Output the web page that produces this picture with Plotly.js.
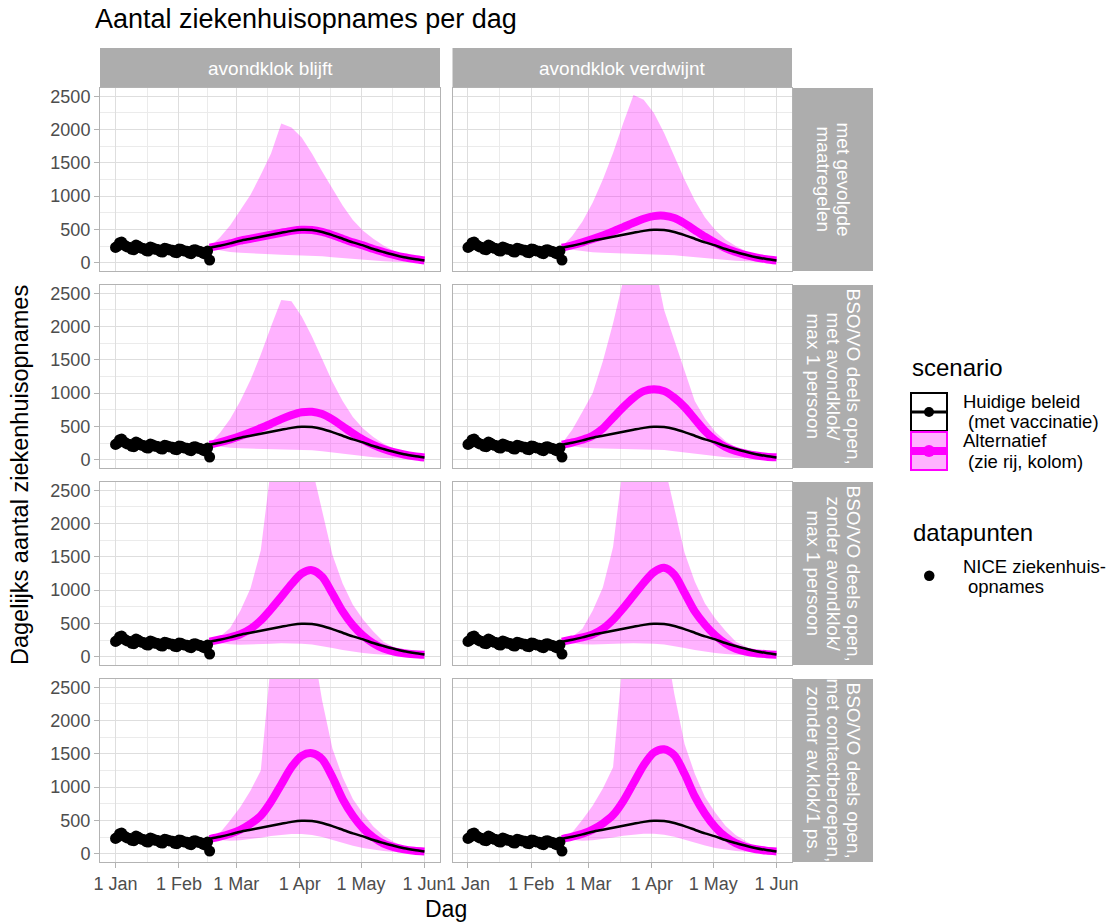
<!DOCTYPE html>
<html><head><meta charset="utf-8">
<script src="https://cdn.plot.ly/plotly-3.0.1.min.js"></script>
<style>html,body{margin:0;padding:0;background:#fff}#chart{width:1108px;height:923px}</style>
</head><body><div id="chart"></div>
<script>
// ---------------- DATA ----------------
const obsStart = '2021-01-01';
const obsValues = [230,250,300,310,270,250,235,230,200,195,265,250,225,215,210,180,175,235,225,205,200,195,165,160,215,210,195,190,185,155,150,205,200,180,175,170,145,135,190,195,175,170,160,140,130,175,40];

const forecastDates = ['2021-02-16','2021-02-21','2021-02-26','2021-03-03','2021-03-08','2021-03-13','2021-03-18','2021-03-23','2021-03-28','2021-04-02','2021-04-07','2021-04-12','2021-04-17','2021-04-22','2021-04-27','2021-05-02','2021-05-07','2021-05-12','2021-05-17','2021-05-22','2021-05-27','2021-06-01'];

const baseline   = [225,255,290,330,360,390,420,450,478,495,490,462,415,360,305,260,205,160,118,82,55,32];

const alt_r1c1   = [225,255,290,330,360,390,420,450,478,495,490,462,415,360,305,260,205,160,118,82,55,32];
const upper_r1c1 = [235,380,560,790,1020,1320,1640,2090,2030,1880,1640,1370,1110,860,640,480,360,260,180,120,75,45];
const lower_r1c1 = [212,185,162,148,138,130,125,120,116,112,105,95,82,68,55,42,31,22,15,10,6,3];

const alt_r1c2   = [225,262,305,355,410,470,535,600,660,700,705,670,590,490,390,300,220,160,112,78,52,33];
const upper_r1c2 = [240,400,620,900,1250,1650,2100,2520,2450,2250,1950,1600,1250,940,680,490,350,250,175,120,80,55];
const lower_r1c2 = [214,192,172,158,150,145,140,138,135,130,122,110,95,80,65,50,38,28,20,13,8,5];

const alt_r2c1   = [225,262,305,355,412,475,540,610,670,712,720,685,605,500,395,300,222,160,112,78,52,33];
const upper_r2c1 = [240,400,610,880,1200,1580,2000,2400,2380,2150,1850,1500,1170,880,640,470,340,240,170,115,75,50];
const lower_r2c1 = [215,195,180,170,165,162,160,158,155,150,140,125,105,85,65,48,35,25,17,11,7,4];

const alt_r2c2   = [225,258,300,360,470,630,790,930,1030,1060,1030,930,790,610,430,290,190,130,90,63,45,35];
const upper_r2c2 = [245,450,720,1000,1480,2050,2700,3200,3300,3000,2250,1800,1330,880,620,420,280,190,125,85,60,45];
const lower_r2c2 = [215,196,182,172,168,166,165,164,162,156,145,128,108,87,67,50,36,26,18,12,7,4];

const alt_r3c1   = [225,258,292,338,420,545,715,900,1090,1250,1300,1200,950,680,470,315,200,122,78,52,38,30];
const upper_r3c1 = [230,300,430,690,1030,1600,2850,3450,3650,3450,2850,2200,1530,1100,780,560,380,225,145,85,55,40];
const lower_r3c1 = [215,198,185,180,182,188,195,200,200,195,182,160,130,100,75,55,40,28,19,12,8,4];

const alt_r3c2   = [225,258,290,335,420,555,730,920,1110,1270,1335,1230,960,680,480,320,200,120,75,50,38,30];
const upper_r3c2 = [230,300,420,690,1040,1650,2900,3500,3700,3500,2900,2250,1560,1130,800,575,390,230,150,85,55,40];
const lower_r3c2 = [215,198,186,182,184,190,197,202,202,196,183,160,130,100,75,55,40,28,19,12,8,4];

const alt_r4c1   = [220,255,300,360,450,570,780,1040,1300,1470,1510,1420,1150,820,570,380,245,150,98,65,45,32];
const upper_r4c1 = [230,310,500,700,950,1250,2900,3600,3900,3800,3200,2300,1580,1150,820,600,410,270,180,100,60,45];
const lower_r4c1 = [215,200,195,200,215,240,265,285,295,295,280,250,205,160,120,85,60,40,27,17,10,5];

const alt_r4c2   = [220,255,300,362,455,580,790,1060,1330,1520,1570,1480,1200,860,600,400,255,158,100,66,46,33];
const upper_r4c2 = [230,320,510,720,980,1300,3000,3700,4000,3900,3300,2400,1650,1200,850,620,420,280,185,105,62,46];
const lower_r4c2 = [215,200,196,202,218,244,270,290,300,300,285,255,210,163,122,87,61,41,28,17,10,5];

const colLabels = ['avondklok blijft', 'avondklok verdwijnt'];
const rowLabels = [
  ['met gevolgde', 'maatregelen'],
  ['BSO/VO deels open,', 'met avondklok/', 'max 1 persoon'],
  ['BSO/VO deels open,', 'zonder avondklok/', 'max 1 persoon'],
  ['BSO/VO deels open,', 'met contactberoepen,', 'zonder av.klok/1 ps.']
];

const xTickVals = ['2021-01-01','2021-02-01','2021-03-01','2021-04-01','2021-05-01','2021-06-01'];
const xTickText = ['1 Jan','1 Feb','1 Mar','1 Apr','1 May','1 Jun'];
const xMinorVals = ['2021-01-16 12:00','2021-02-15','2021-03-16 12:00','2021-04-16','2021-05-16 12:00'];
const xRange = ['2020-12-24 10:00','2021-06-08 14:00'];
const yTickVals = [0,500,1000,1500,2000,2500];
const yMinorVals = [250,750,1250,1750,2250];
const yRange = [-125, 2625];

const titleText = 'Aantal ziekenhuisopnames per dag';
const xTitle = 'Dag';
const yTitle = 'Dagelijks aantal ziekenhuisopnames';

// ---------------- BUILD ----------------
const obsDates = obsValues.map((v,i)=>{
  const d = new Date(obsStart+'T00:00:00Z'); d.setUTCDate(d.getUTCDate()+i);
  return d.toISOString().slice(0,10);
});

const panels = [
  {alt:alt_r1c1, up:upper_r1c1, lo:lower_r1c1},
  {alt:alt_r1c2, up:upper_r1c2, lo:lower_r1c2},
  {alt:alt_r2c1, up:upper_r2c1, lo:lower_r2c1},
  {alt:alt_r2c2, up:upper_r2c2, lo:lower_r2c2},
  {alt:alt_r3c1, up:upper_r3c1, lo:lower_r3c1},
  {alt:alt_r3c2, up:upper_r3c2, lo:lower_r3c2},
  {alt:alt_r4c1, up:upper_r4c1, lo:lower_r4c1},
  {alt:alt_r4c2, up:upper_r4c2, lo:lower_r4c2}
];

const W=1108, H=923;
const colPx=[[100,440],[452.5,792]];
const rowPx=[[88,271],[285,468],[482,665],[679,862]];
const stripTop=[48,87];
const stripRight=[793,873];
const fx = p=>p/W, fy = p=>1-p/H;
const FONT='Liberation Sans, Arial, Helvetica, sans-serif';
const STRIP='#adadad', BORDER='#b3b3b3', GRID='#dedede', MINOR='#ebebeb';
const MAG='#ff00ff', BAND='rgba(255,0,255,0.3)';

const traces=[];
const layout={
  width:W, height:H, margin:{l:0,r:0,t:0,b:0,pad:0},
  paper_bgcolor:'#fff', plot_bgcolor:'#fff', showlegend:false,
  font:{family:FONT, color:'#000'},
  shapes:[], annotations:[]
};

panels.forEach((p,i)=>{
  const r=Math.floor(i/2), c=i%2;
  const sfx = i===0?'':String(i+1);
  const xa='x'+sfx, ya='y'+sfx;
  traces.push({type:'scatter',mode:'lines',x:forecastDates,y:p.lo,xaxis:xa,yaxis:ya,
    line:{width:0,color:'rgba(0,0,0,0)'},hoverinfo:'skip'});
  traces.push({type:'scatter',mode:'lines',x:forecastDates,y:p.up,xaxis:xa,yaxis:ya,
    fill:'tonexty',fillcolor:BAND,line:{width:0,color:'rgba(0,0,0,0)'},hoverinfo:'skip'});
  traces.push({type:'scatter',mode:'lines',x:forecastDates,y:p.alt,xaxis:xa,yaxis:ya,
    line:{color:MAG,width:8,shape:'spline',smoothing:0.8}});
  traces.push({type:'scatter',mode:'lines',x:forecastDates,y:baseline,xaxis:xa,yaxis:ya,
    line:{color:'#000',width:2.5,shape:'spline',smoothing:0.8}});
  traces.push({type:'scatter',mode:'markers',x:obsDates,y:obsValues,xaxis:xa,yaxis:ya,
    marker:{color:'#000',size:11,line:{width:0}}});

  const bottom = (r===3), left=(c===0);
  layout['xaxis'+sfx] = {
    type:'date', domain:[fx(colPx[c][0]), fx(colPx[c][1])], anchor:ya, range:xRange,
    tickmode:'array', tickvals:xTickVals, ticktext:xTickText,
    showticklabels:bottom, ticks:bottom?'outside':'', ticklen:5, tickwidth:1, tickcolor:BORDER,
    tickfont:{size:18,color:'#4d4d4d',family:FONT},
    showgrid:true, gridcolor:GRID, gridwidth:1,
    minor:{tickvals:xMinorVals, showgrid:true, gridcolor:MINOR, gridwidth:1, ticks:''},
    showline:true, mirror:true, linecolor:BORDER, linewidth:1, zeroline:false, fixedrange:true
  };
  layout['yaxis'+sfx] = {
    domain:[fy(rowPx[r][1]), fy(rowPx[r][0])], anchor:xa, range:yRange,
    tickmode:'array', tickvals:yTickVals,
    showticklabels:left, ticks:left?'outside':'', ticklen:5, tickwidth:1, tickcolor:BORDER,
    tickfont:{size:18,color:'#4d4d4d',family:FONT},
    showgrid:true, gridcolor:GRID, gridwidth:1,
    minor:{tickvals:yMinorVals, showgrid:true, gridcolor:MINOR, gridwidth:1, ticks:''},
    showline:true, mirror:true, linecolor:BORDER, linewidth:1, zeroline:false, fixedrange:true
  };
});

// strips
colLabels.forEach((t,c)=>{
  layout.shapes.push({type:'rect',xref:'paper',yref:'paper',x0:fx(colPx[c][0]),x1:fx(colPx[c][1]),
    y0:fy(stripTop[1]),y1:fy(stripTop[0]),fillcolor:STRIP,line:{width:0}});
  layout.annotations.push({xref:'paper',yref:'paper',x:fx((colPx[c][0]+colPx[c][1])/2),
    y:fy((stripTop[0]+stripTop[1])/2+0.5),text:t,showarrow:false,xanchor:'center',yanchor:'middle',
    font:{size:19,color:'#fff',family:FONT}});
});
rowLabels.forEach((lines,r)=>{
  layout.shapes.push({type:'rect',xref:'paper',yref:'paper',x0:fx(stripRight[0]),x1:fx(stripRight[1]),
    y0:fy(rowPx[r][1]),y1:fy(rowPx[r][0]),fillcolor:STRIP,line:{width:0}});
  const cx=(stripRight[0]+stripRight[1])/2, n=lines.length, sp=20;
  lines.forEach((t,k)=>{
    const x = cx + ((n-1)/2 - k)*sp;
    layout.annotations.push({xref:'paper',yref:'paper',x:fx(x),y:fy((rowPx[r][0]+rowPx[r][1])/2),
      text:t,textangle:90,showarrow:false,xanchor:'center',yanchor:'middle',
      font:{size:19,color:'#fff',family:FONT}});
  });
});

// titles
layout.annotations.push({xref:'paper',yref:'paper',x:fx(93),y:fy(19),text:titleText,showarrow:false,
  xanchor:'left',yanchor:'middle',font:{size:27,color:'#000',family:FONT}});
layout.annotations.push({xref:'paper',yref:'paper',x:fx(446),y:fy(908.5),text:xTitle,showarrow:false,
  xanchor:'center',yanchor:'middle',font:{size:23,color:'#000',family:FONT}});
layout.annotations.push({xref:'paper',yref:'paper',x:fx(20),y:fy(475),text:yTitle,showarrow:false,
  textangle:-90,xanchor:'center',yanchor:'middle',font:{size:23.5,color:'#000',family:FONT}});

// legend (drawn)
const legText=[
  ['scenario',910,367.6,24],
  ['Huidige beleid',961,401.2,18.5],
  ['(met vaccinatie)',966,421.8,18.5],
  ['Alternatief',961,440.8,18.5],
  ['(zie rij, kolom)',966,461.8,18.5],
  ['datapunten',910.5,532.3,24],
  ['NICE ziekenhuis-',961,566.8,18.5],
  ['opnames',966,586,18.5]
];
legText.forEach(([t,x,y,s])=>{
  layout.annotations.push({xref:'paper',yref:'paper',x:fx(x),y:fy(y),text:t,showarrow:false,
    xanchor:'left',yanchor:'middle',font:{size:s,color:'#000',family:FONT}});
});
const P=(o)=>Object.assign({xref:'paper',yref:'paper'},o);
layout.shapes.push(P({type:'rect',x0:fx(911),x1:fx(947),y0:fy(431),y1:fy(393),fillcolor:'#fff',line:{color:'#000',width:2}}));
layout.shapes.push(P({type:'line',x0:fx(912),x1:fx(946),y0:fy(412),y1:fy(412),line:{color:'#000',width:3}}));
layout.shapes.push(P({type:'circle',x0:fx(924),x1:fx(934),y0:fy(417),y1:fy(407),fillcolor:'#000',line:{width:0}}));
layout.shapes.push(P({type:'rect',x0:fx(911),x1:fx(947),y0:fy(470),y1:fy(432),fillcolor:BAND,line:{color:MAG,width:2}}));
layout.shapes.push(P({type:'line',x0:fx(912),x1:fx(946),y0:fy(451),y1:fy(451),line:{color:MAG,width:8}}));
layout.shapes.push(P({type:'circle',x0:fx(923),x1:fx(935),y0:fy(457),y1:fy(445),fillcolor:MAG,line:{width:0}}));
layout.shapes.push(P({type:'circle',x0:fx(924),x1:fx(934.5),y0:fy(581),y1:fy(570.5),fillcolor:'#000',line:{width:0}}));

Plotly.newPlot('chart', traces, layout, {staticPlot:true, displayModeBar:false});
</script>
</body></html>
